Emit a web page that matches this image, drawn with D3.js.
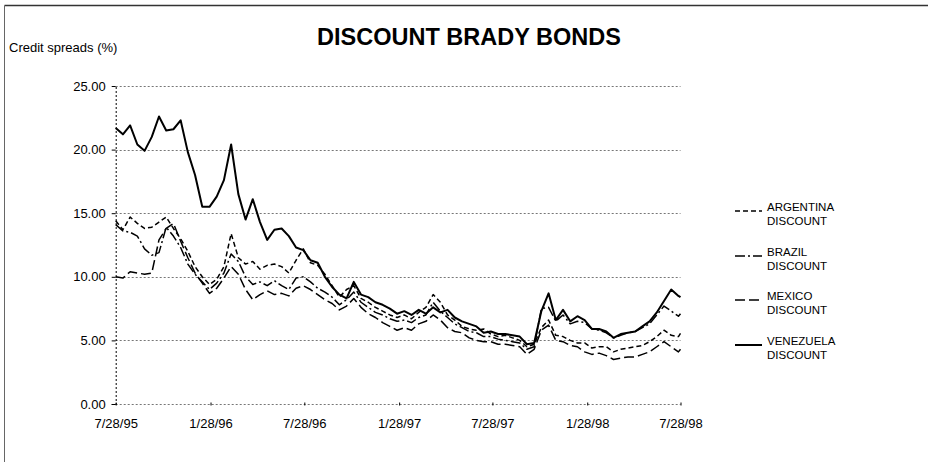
<!DOCTYPE html>
<html>
<head>
<meta charset="utf-8">
<script src="https://cdn.jsdelivr.net/npm/d3@7"></script>
<style>
  html, body { margin: 0; padding: 0; background: #fff; }
  svg { display: block; font-family: "Liberation Sans", Arial, Helvetica, sans-serif; }
</style>
</head>
<body>
<svg id="chart" width="928" height="462"></svg>
<script>
const dates = ["1995-07-28","1995-08-11","1995-08-25","1995-09-08","1995-09-22","1995-10-06","1995-10-20","1995-11-03","1995-11-17","1995-12-01",
"1995-12-15","1995-12-29","1996-01-12","1996-01-26","1996-02-09","1996-02-23","1996-03-08","1996-03-22","1996-04-05","1996-04-19",
"1996-05-03","1996-05-17","1996-05-31","1996-06-14","1996-06-28","1996-07-12","1996-07-26","1996-08-09","1996-08-23","1996-09-06",
"1996-09-20","1996-10-04","1996-10-18","1996-11-01","1996-11-15","1996-11-29","1996-12-13","1996-12-27","1997-01-10","1997-01-24",
"1997-02-07","1997-02-21","1997-03-07","1997-03-21","1997-04-04","1997-04-18","1997-05-02","1997-05-16","1997-05-30","1997-06-13",
"1997-06-27","1997-07-11","1997-07-25","1997-08-08","1997-08-22","1997-09-05","1997-09-19","1997-10-03","1997-10-17","1997-10-31",
"1997-11-14","1997-11-28","1997-12-12","1997-12-26","1998-01-09","1998-01-23","1998-02-06","1998-02-20","1998-03-06","1998-03-20",
"1998-04-03","1998-04-17","1998-05-01","1998-05-15","1998-05-29","1998-06-12","1998-06-26","1998-07-10","1998-07-24","1998-07-28"];

const argentina = [14.4,13.7,14.7,14.2,13.8,13.9,14.3,14.7,13.8,13.0,
12.0,10.8,10.0,9.4,9.8,10.8,13.4,11.5,11.0,11.2,
10.6,10.9,11.0,10.8,10.3,11.3,12.2,11.1,10.9,10.2,
9.3,8.4,9.0,9.3,8.3,8.0,7.6,7.3,7.0,6.8,
7.0,6.7,7.2,7.6,8.6,8.0,7.0,6.6,6.1,5.9,
5.8,5.9,5.5,5.3,5.4,5.2,5.0,4.5,4.7,6.0,
6.6,5.4,5.3,5.0,4.8,4.8,4.4,4.5,4.5,4.1,
4.3,4.4,4.5,4.6,4.9,5.3,5.8,5.4,5.3,5.55];

const brazil = [14.1,13.6,13.5,13.2,12.2,11.7,11.9,13.9,13.2,12.3,
11.0,10.2,9.6,9.0,9.5,10.3,11.8,11.2,10.0,9.4,
9.6,9.3,9.7,9.3,9.0,9.9,10.0,9.6,9.1,8.8,
8.4,7.8,8.2,8.8,8.0,7.6,7.2,7.0,6.7,6.5,
6.6,6.4,6.8,7.0,8.0,7.3,6.8,6.3,6.0,5.7,
5.6,5.3,5.3,5.1,5.0,4.9,4.8,4.3,4.5,7.5,
7.6,6.5,7.0,6.3,6.5,6.4,5.9,5.8,5.6,5.2,
5.4,5.6,5.7,6.0,6.3,7.0,7.7,7.3,6.9,7.1];

const mexico = [10.0,9.9,10.4,10.3,10.2,10.3,12.9,13.8,14.2,12.8,
11.5,10.3,9.5,8.7,9.1,9.9,10.8,10.2,9.0,8.2,
8.6,8.9,8.6,8.7,8.5,9.1,9.3,9.0,8.6,8.2,
7.9,7.4,7.7,8.3,7.6,7.1,6.8,6.4,6.1,5.8,
6.0,5.8,6.3,6.5,7.0,6.6,6.0,5.7,5.6,5.2,
5.0,4.9,4.9,4.7,4.7,4.6,4.5,3.9,4.3,5.8,
6.2,5.0,4.9,4.6,4.5,4.1,3.9,4.0,3.8,3.5,
3.6,3.7,3.7,3.9,4.1,4.5,4.9,4.5,4.1,4.3];

const venezuela = [21.7,21.2,21.9,20.4,19.9,21.0,22.6,21.5,21.6,22.3,
19.8,18.0,15.5,15.5,16.3,17.6,20.4,16.5,14.5,16.1,
14.3,12.9,13.7,13.8,13.2,12.3,12.1,11.3,11.1,10.0,
9.2,8.6,8.3,9.6,8.6,8.4,8.0,7.8,7.5,7.1,
7.3,7.0,7.4,7.1,7.6,7.2,7.4,6.8,6.5,6.3,
6.1,5.6,5.7,5.5,5.5,5.4,5.3,4.7,4.8,7.3,
8.7,6.6,7.4,6.5,6.9,6.6,5.9,5.9,5.7,5.2,
5.5,5.6,5.7,6.1,6.5,7.2,8.1,9.0,8.5,8.4];

const xTickLabels = ["7/28/95","1/28/96","7/28/96","1/28/97","7/28/97","1/28/98","7/28/98"];
const yTicks = [0,5,10,15,20,25];
const seriesNames = [["ARGENTINA","DISCOUNT"],["BRAZIL","DISCOUNT"],["MEXICO","DISCOUNT"],["VENEZUELA","DISCOUNT"]];

const series = [
  {name: seriesNames[0], values: argentina, dash: "5,3", width: 1.5},
  {name: seriesNames[1], values: brazil, dash: "10,3,2,3", width: 1.5},
  {name: seriesNames[2], values: mexico, dash: "10,4", width: 1.5},
  {name: seriesNames[3], values: venezuela, dash: null, width: 2}
];

const parse = d3.timeParse("%Y-%m-%d");
const tickParse = d3.timeParse("%m/%d/%y");
const svg = d3.select("#chart");

// outer frame (only top and left edges visible)
svg.append("line").attr("x1", 4.5).attr("x2", 928).attr("y1", 5.5).attr("y2", 5.5)
  .attr("stroke", "#333").attr("stroke-width", 1.5);
svg.append("line").attr("x1", 4.5).attr("x2", 4.5).attr("y1", 5.5).attr("y2", 462)
  .attr("stroke", "#666").attr("stroke-width", 1);

const x = d3.scaleTime()
  .domain([tickParse(xTickLabels[0]), tickParse(xTickLabels[xTickLabels.length - 1])])
  .range([115.7, 680.5]);
const y = d3.scaleLinear().domain([0, 25]).range([404, 86]);

// gridlines
svg.append("g").selectAll("line").data(yTicks).join("line")
  .attr("x1", x.range()[0]).attr("x2", x.range()[1])
  .attr("y1", d => Math.round(y(d)) + 0.5).attr("y2", d => Math.round(y(d)) + 0.5)
  .attr("stroke", "#777").attr("stroke-width", 1).attr("stroke-dasharray", "2,2");

// y axis
const yAxis = d3.axisLeft(y).tickValues(yTicks).tickFormat(d3.format(".2f")).tickSize(4).tickPadding(6);
const gy = svg.append("g").attr("transform", `translate(${x.range()[0]},0)`).call(yAxis);
gy.select(".domain").attr("stroke", "#000").attr("stroke-dasharray", "2,2");
gy.selectAll(".tick line").attr("stroke", "#000");
gy.selectAll("text").attr("font-size", 13).attr("fill", "#000")
  .attr("font-family", "'Liberation Sans', Arial, sans-serif");

// x axis
const xAxis = d3.axisBottom(x).tickValues(xTickLabels.map(tickParse))
  .tickFormat((d, i) => xTickLabels[i]).tickSize(3).tickPadding(12);
const gx = svg.append("g").attr("transform", `translate(0,${y(0)})`).call(xAxis);
gx.select(".domain").remove();
gx.selectAll(".tick line").attr("stroke", "#000").attr("transform", "translate(0,-1.5)");
gx.selectAll("text").attr("font-size", 13).attr("fill", "#000")
  .attr("font-family", "'Liberation Sans', Arial, sans-serif");

// lines
const line = d3.line().x((d, i) => x(parse(dates[i]))).y(d => y(d));
series.forEach(s => {
  svg.append("path").datum(s.values)
    .attr("d", line)
    .attr("fill", "none")
    .attr("stroke", "#000")
    .attr("stroke-width", s.width)
    .attr("stroke-linejoin", "round")
    .attr("stroke-dasharray", s.dash);
});

// title & axis title
svg.append("text").attr("x", 469).attr("y", 45).attr("text-anchor", "middle")
  .attr("font-size", 23.5).attr("font-weight", "bold").text("DISCOUNT BRADY BONDS");
svg.append("text").attr("x", 9).attr("y", 52).attr("font-size", 13).text("Credit spreads (%)");

// legend
const legendY = [211, 256, 300, 345];
const lg = svg.append("g");
series.forEach((s, i) => {
  lg.append("line").attr("x1", 735).attr("x2", 762)
    .attr("y1", legendY[i]).attr("y2", legendY[i])
    .attr("stroke", "#000").attr("stroke-width", s.width)
    .attr("stroke-dasharray", s.dash);
  lg.append("text").attr("x", 767).attr("y", legendY[i]).attr("font-size", 11.5).text(s.name[0]);
  lg.append("text").attr("x", 767).attr("y", legendY[i] + 14).attr("font-size", 11.5).text(s.name[1]);
});
</script>
</body>
</html>
